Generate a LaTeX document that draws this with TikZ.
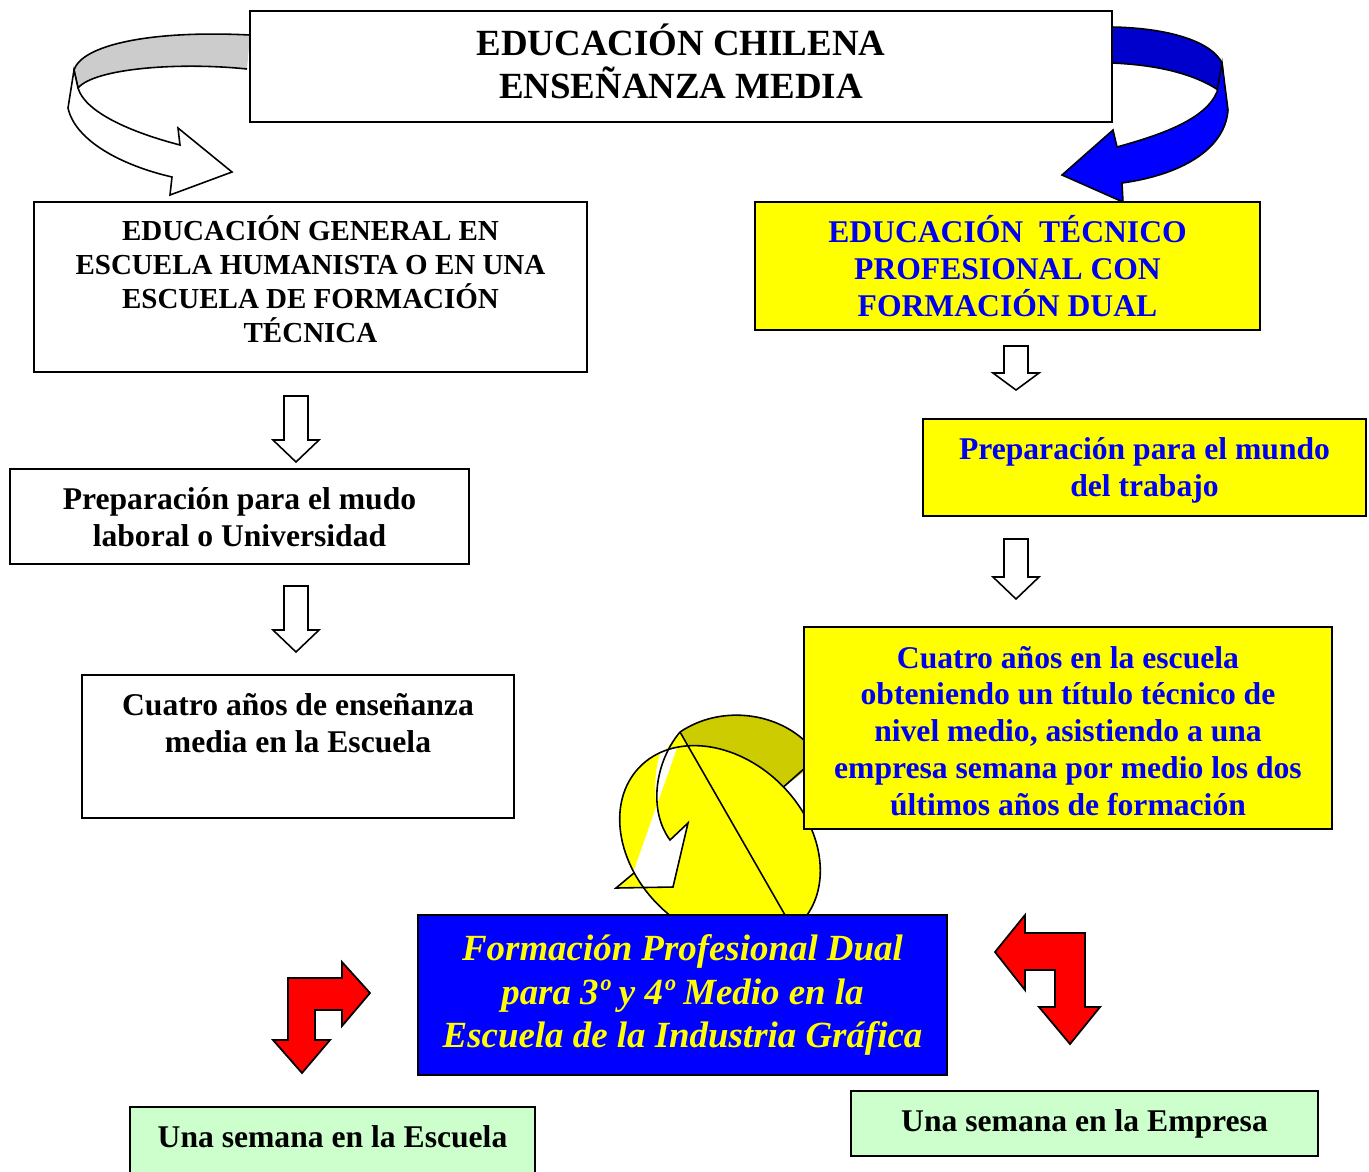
\documentclass[tikz,border=0pt]{standalone}
\usepackage{fontspec}
\setmainfont{Liberation Serif}
\definecolor{bandgray}{RGB}{204,204,204}
\definecolor{darkband}{RGB}{0,0,204}
\definecolor{lightband}{RGB}{0,0,255}
\definecolor{boxyellow}{RGB}{255,255,0}
\definecolor{boxblue}{RGB}{0,0,255}
\definecolor{olive}{RGB}{204,204,0}
\definecolor{boxgreen}{RGB}{204,255,204}
\definecolor{txtblue}{RGB}{0,0,240}
\newcommand\hdown[4]{% x, top, headbase, tip
  \draw[hollow] (#1-12,#2) -- (#1+12,#2) -- (#1+12,#3) -- (#1+23,#3) -- (#1,#4) -- (#1-23,#3) -- (#1-12,#3) -- cycle;}
\begin{document}
\begin{tikzpicture}[x=0.02cm,y=-0.02cm]
\def\u{0.02cm}
\tikzset{
  box/.style={draw=black,line width=1pt,inner sep=0pt,align=center,font=\bfseries\fontsize{18}{21}\selectfont},
  txt/.style={inner sep=0pt,align=center,font=\bfseries\fontsize{18}{21}\selectfont},
  hollow/.style={draw=black,fill=white,line width=0.9pt,line join=miter},
  redarrow/.style={draw=black,fill=red,line width=1pt,line join=miter},
  outl/.style={draw=black,line width=0.9pt},
}
\useasboundingbox (0,0) rectangle (1369,1171);

% ---- left curved arrow (behind title)
\fill[bandgray] (250,35) .. controls (150,30) and (82,45) .. (74,70) -- (78,88) .. controls (95,68) and (180,62) .. (247,69) -- cycle;
\draw[outl] (250,35) .. controls (150,30) and (82,45) .. (74,70) -- (78,88) .. controls (95,68) and (180,62) .. (247,69);
\draw[outl,fill=white,line join=miter] (74,70) -- (68,108) .. controls (75,140) and (120,165) .. (172,177) -- (170,195) -- (232,172) -- (178,128) -- (180,145) .. controls (130,132) and (85,112) .. (78,88) -- cycle;

% ---- right curved arrow (behind title)
\draw[outl,fill=darkband] (1112,27) .. controls (1170,28) and (1212,42) .. (1222,63) -- (1225,95) .. controls (1200,75) and (1160,65) .. (1112,63) -- cycle;
\draw[outl,fill=lightband,line join=miter] (1222,63) -- (1228,110) .. controls (1225,150) and (1180,175) .. (1122,183) -- (1123,202) -- (1062,175) -- (1113,130) -- (1117,147) .. controls (1160,135) and (1205,120) .. (1217,92) -- cycle;

% ---- yellow circular arrow (behind boxes)
\fill[olive] (680,732) .. controls (720,705) and (775,712) .. (810,745) -- (810,767) -- (780,790) -- (690,748) -- cycle;
\draw[outl] (680,732) .. controls (720,705) and (775,712) .. (806,742);
\draw[outl] (806,767) -- (780,790);
\fill[boxyellow] (680,732) -- (694,752) -- (660,757) -- cycle;
\fill[boxyellow,rotate around={-44:(720,845)}] (720,845) ellipse [x radius=112, y radius=86];
\begin{scope}
  \clip[rotate around={-44:(720,845)}] (720,845) ellipse [x radius=112, y radius=86];
  \fill[white] (678,745) -- (633,873) -- (636,887) -- (673,887) -- (688,823) -- (670,840) .. controls (650,810) and (653,770) .. (663,745) -- cycle;
\end{scope}
\fill[boxyellow] (616,888) -- (634,873) -- (645,888) -- cycle;
\draw[outl,rotate around={-44:(720,845)}] (720,845) ellipse [x radius=112, y radius=86];
\draw[outl,line join=miter] (680,732) .. controls (655,762) and (648,810) .. (670,840) -- (688,823) -- (673,887) -- (616,888) -- (634,873);
\draw[outl] (680,732) -- (785,915);

% ---- boxes
\node[box,fill=white,minimum width={862*\u},minimum height={111*\u}] (title) at (681,66.5) {};
\node[txt,font=\bfseries\fontsize{21}{24.4}\selectfont] (titlet) at (681,61.5) {EDUCACIÓN CHILENA\\ENSEÑANZA MEDIA};
\node[box,fill=white,minimum width={553*\u},minimum height={170*\u}] (lb1) at (310.5,287) {};
\node[txt,font=\bfseries\fontsize{16.5}{19.3}\selectfont] (lb1t) at (310.5,279) {EDUCACIÓN GENERAL EN\\ESCUELA HUMANISTA O EN UNA\\ESCUELA DE FORMACIÓN\\TÉCNICA};
\node[box,fill=boxyellow,text=txtblue,minimum width={505*\u},minimum height={128*\u}] (rb1) at (1007.5,266) {EDUCACIÓN~ TÉCNICO\\PROFESIONAL CON\\FORMACIÓN DUAL};
\node[box,fill=white,minimum width={459*\u},minimum height={95*\u}] (lb2) at (239.5,516.5) {};
\node[txt] (lb2t) at (239.5,517.5) {Preparación para el mudo\\laboral o Universidad};
\node[box,fill=white,minimum width={432*\u},minimum height={143*\u}] (lb3) at (298,746.5) {};
\node[txt] (lb3t) at (298,723.5) {Cuatro años de enseñanza\\media en la Escuela};
\node[box,fill=boxyellow,minimum width={443*\u},minimum height={97*\u}] (rb2) at (1144.5,467.5) {};
\node[txt,text=txtblue] (rb2t) at (1144.5,470.5) {Preparación para el mundo\\del trabajo};
\node[box,fill=boxyellow,minimum width={528*\u},minimum height={202*\u}] (rb3) at (1068,728) {};
\node[txt,text=txtblue] (rb3t) at (1068,731) {Cuatro años en la escuela\\obteniendo un título técnico de\\nivel medio, asistiendo a una\\empresa semana por medio los dos\\últimos años de formación};
\node[box,fill=boxblue,text=boxyellow,minimum width={529*\u},minimum height={160*\u},font=\bfseries\itshape\fontsize{21}{24.7}\selectfont] (dual) at (682.5,995) {Formación Profesional Dual\\para 3º y 4º Medio en la\\Escuela de la Industria Gráfica};
\node[box,fill=boxgreen,minimum width={405*\u},minimum height={76*\u}] (gl) at (332.5,1145) {};
\node[txt] (gltext) at (332.5,1137) {Una semana en la Escuela};
\node[box,fill=boxgreen,minimum width={467*\u},minimum height={65*\u}] (gr) at (1084.5,1123.5) {Una semana en la Empresa};

% ---- hollow down arrows
\hdown{296}{396}{440}{462}
\hdown{296}{586}{630}{652}
\hdown{1016}{346}{373}{390}
\hdown{1016}{539}{577}{599}

% ---- red arrows
\draw[redarrow] (288,978) -- (342,978) -- (342,962) -- (370,993) -- (342,1026) -- (342,1010) -- (315,1010) -- (315,1040) -- (330,1040) -- (302,1073) -- (273,1040) -- (288,1040) -- cycle;
\draw[redarrow] (995,952) -- (1025,915) -- (1025,933) -- (1085,933) -- (1085,1007) -- (1100,1007) -- (1070,1044) -- (1039,1007) -- (1055,1007) -- (1055,970) -- (1025,970) -- (1025,990) -- cycle;
\end{tikzpicture}
\end{document}
